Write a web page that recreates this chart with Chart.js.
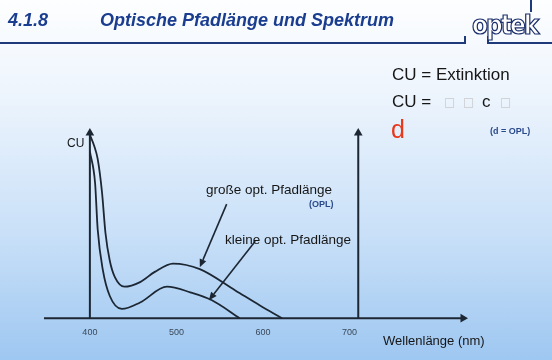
<!DOCTYPE html>
<html>
<head>
<meta charset="utf-8">
<script src="https://cdn.jsdelivr.net/npm/chart.js@4/dist/chart.umd.min.js"></script>
<style>
  body { margin: 0; overflow: hidden; }
  #slide {
    position: relative; width: 552px; height: 360px; overflow: hidden;
    background: linear-gradient(to bottom, #fdfeff 0%, #eef5fd 25%, #c9e0f8 65%, #9ec7f1 100%);
    font-family: "Liberation Sans", Arial, sans-serif;
  }
  #slide canvas { position: absolute; left: 0; top: 0; }
  .t { position: absolute; line-height: 1; white-space: nowrap; color: #161616; }
  .head { font-size: 18px; font-weight: bold; font-style: italic; color: #1a3d8f; }
  .small { font-size: 9px; font-weight: bold; color: #2b4a8c; }
  .box { color: #c9c9c9; font-family: "DejaVu Sans", sans-serif; font-size: 12px; }
  .rule { position: absolute; background: #1e3a7a; }
  #logo {
    position: absolute; left: 472px; top: 12px; line-height: 1;
    font-family: "DejaVu Sans Condensed", "DejaVu Sans", sans-serif; font-weight: bold;
    font-size: 26px; letter-spacing: -2px; color: #fff;
    -webkit-text-stroke: 1.2px #1b2f6b;
  }
</style>
</head>
<body>
<div id="slide">
  <canvas id="chart" width="552" height="360"></canvas>

  <div class="t head" style="left:8px;top:11px;">4.1.8</div>
  <div class="t head" style="left:100px;top:11px;">Optische Pfadlänge und Spektrum</div>
  <div class="rule" style="left:0;top:42px;width:465px;height:2px;"></div>
  <div class="rule" style="left:464px;top:36px;width:2px;height:8px;"></div>
  <div class="rule" style="left:487px;top:42px;width:65px;height:2px;"></div>
  <div class="rule" style="left:487px;top:36px;width:2px;height:8px;"></div>
  <div class="rule" style="left:530px;top:0;width:2px;height:12px;"></div>
  <div id="logo">optek</div>

  <div class="t" style="left:392px;top:66px;font-size:17px;">CU = Extinktion</div>
  <div class="t" style="left:392px;top:93px;font-size:17px;">CU =</div>
  <div class="t box" style="left:444px;top:96px;">□</div>
  <div class="t box" style="left:463px;top:96px;">□</div>
  <div class="t" style="left:482px;top:93px;font-size:17px;">c</div>
  <div class="t box" style="left:500px;top:96px;">□</div>
  <div class="t" style="left:391px;top:117px;font-size:25px;color:#e8381c;">d</div>
  <div class="t small" style="left:490px;top:127px;">(d = OPL)</div>

  <div class="t" style="left:67px;top:137px;font-size:12px;">CU</div>
  <div class="t" style="left:206px;top:183px;font-size:13.5px;">große opt. Pfadlänge</div>
  <div class="t small" style="left:309px;top:200px;">(OPL)</div>
  <div class="t" style="left:225px;top:233px;font-size:13.5px;">kleine opt. Pfadlänge</div>
  <div class="t" style="left:383px;top:334px;font-size:13px;">Wellenlänge (nm)</div>
</div>

<script>
// spectra (wavelength nm / CU, arbitrary units)
const bigWl = [400, 405, 409, 414, 418, 423, 429, 440, 458, 475, 496, 527, 568, 596, 622];
const bigCu = [99, 93, 86, 68, 46, 31, 22, 17, 19.5, 25, 29.5, 26.5, 15, 7, 0];
const smallWl = [400, 406, 409, 415, 423, 437, 458, 489, 516, 541, 573];
const smallCu = [90, 73, 48, 26, 12, 5, 8.5, 17, 14, 9.7, 0];

const tickValues = [400, 500, 600, 700];
const tickLabels = ['400', '500', '600', '700'];

const xMin = 347, xMax = 831;
const yMin = 0, yMax = 100;
const markerWl = 710; // second vertical line

// label arrows: [fromWl, fromCu, toWl, toCu]
const noteArrows = [
    [558, 61.6, 527, 27.5],
    [591, 41.5, 537.5, 9.7]
];

const ink = '#1c2733';

function pts(xs, ys) {
    return xs.map((x, i) => ({ x: x, y: ys[i] }));
}

function axisLine(data, rot) {
    return {
        data: data,
        borderColor: ink,
        backgroundColor: ink,
        borderWidth: 2,
        pointRadius: [0, 5],
        pointStyle: 'triangle',
        rotation: rot,
        pointBorderWidth: 0,
        clip: false
    };
}

const arrowPlugin = {
    id: 'noteArrows',
    afterDatasetsDraw(chart) {
        const ctx = chart.ctx;
        const xs = chart.scales.x, ys = chart.scales.y;
        ctx.save();
        ctx.strokeStyle = ink;
        ctx.fillStyle = ink;
        ctx.lineWidth = 1.6;
        noteArrows.forEach(a => {
            const x1 = xs.getPixelForValue(a[0]), y1 = ys.getPixelForValue(a[1]);
            const x2 = xs.getPixelForValue(a[2]), y2 = ys.getPixelForValue(a[3]);
            const ang = Math.atan2(y2 - y1, x2 - x1);
            const hl = 8, hw = 3.5;
            const bx = x2 - hl * Math.cos(ang), by = y2 - hl * Math.sin(ang);
            ctx.beginPath();
            ctx.moveTo(x1, y1);
            ctx.lineTo(bx, by);
            ctx.stroke();
            ctx.beginPath();
            ctx.moveTo(x2, y2);
            ctx.lineTo(bx + hw * Math.sin(ang), by - hw * Math.cos(ang));
            ctx.lineTo(bx - hw * Math.sin(ang), by + hw * Math.cos(ang));
            ctx.closePath();
            ctx.fill();
        });
        ctx.restore();
    }
};

new Chart(document.getElementById('chart').getContext('2d'), {
    type: 'line',
    data: {
        datasets: [
            {
                label: 'große opt. Pfadlänge',
                data: pts(bigWl, bigCu),
                borderColor: ink,
                borderWidth: 1.8,
                pointRadius: 0,
                cubicInterpolationMode: 'monotone',
                clip: false
            },
            {
                label: 'kleine opt. Pfadlänge',
                data: pts(smallWl, smallCu),
                borderColor: ink,
                borderWidth: 1.8,
                pointRadius: 0,
                cubicInterpolationMode: 'monotone',
                clip: false
            },
            axisLine([{ x: xMin, y: yMin }, { x: xMax, y: yMin }], 90),
            axisLine([{ x: tickValues[0], y: yMin }, { x: tickValues[0], y: yMax }], 0),
            axisLine([{ x: markerWl, y: yMin }, { x: markerWl, y: yMax }], 0)
        ]
    },
    options: {
        responsive: false,
        animation: false,
        events: [],
        devicePixelRatio: 1,
        layout: { padding: { left: 44, right: 89, top: 133, bottom: 13 } },
        plugins: {
            legend: { display: false },
            tooltip: { enabled: false }
        },
        scales: {
            x: {
                type: 'linear',
                min: xMin,
                max: xMax,
                grid: { display: false, drawTicks: false },
                border: { display: false },
                afterBuildTicks: (scale) => {
                    scale.ticks = tickValues.map(v => ({ value: v }));
                },
                ticks: {
                    padding: 9,
                    color: '#3a4858',
                    font: { family: 'Liberation Sans, Arial, sans-serif', size: 9 },
                    callback: (v, i) => tickLabels[i]
                }
            },
            y: {
                display: false,
                min: yMin,
                max: yMax
            }
        }
    },
    plugins: [arrowPlugin]
});
</script>
</body>
</html>
